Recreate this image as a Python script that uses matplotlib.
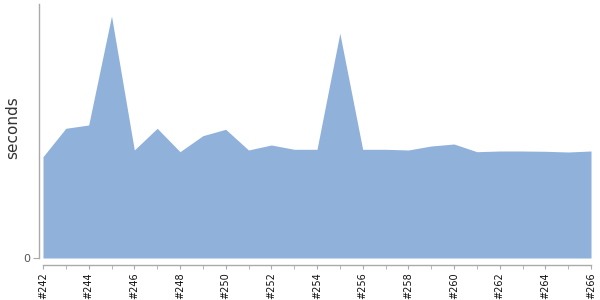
import matplotlib
matplotlib.use("Agg")
import matplotlib.pyplot as plt
from matplotlib.ticker import FixedLocator

builds = list(range(242, 267))
seconds = [101.3, 129.7, 133.0, 242.0, 108.0, 129.7, 106.3, 122.3, 128.7, 108.0,
           113.0, 108.7, 108.7, 224.7, 108.7, 108.7, 108.0, 112.0, 114.0, 106.3,
           107.0, 107.0, 106.7, 106.0, 107.0]
ylabel = "seconds"

fig = plt.figure(figsize=(6, 3), dpi=100)
ax = fig.add_axes([43/600, 1 - 258/300, (591 - 43)/600, (258 - 4)/300])

ax.fill_between(builds, seconds, 0, color="#8fb1da", linewidth=0)
ax.set_xlim(builds[0], builds[-1])
ax.set_ylim(0, 254)

for s in ("top", "right"):
    ax.spines[s].set_visible(False)
ax.spines["left"].set_position(("outward", 3))
ax.spines["bottom"].set_position(("outward", 5))
for s in ("left", "bottom"):
    ax.spines[s].set_color("#aaaaaa")
    ax.spines[s].set_linewidth(1)

major = [b for b in builds if b % 2 == 0]
minor = [b for b in builds if b % 2 == 1]
ax.xaxis.set_major_locator(FixedLocator(major))
ax.xaxis.set_minor_locator(FixedLocator(minor))
ax.set_xticklabels(["#%d" % b for b in major], rotation=90, fontsize=7, color="#111111")
ax.tick_params(axis="x", which="both", length=3, color="#aaaaaa", pad=2)
ax.set_yticks([0])
ax.set_yticklabels(["0"], fontsize=8, color="#555555")
ax.tick_params(axis="y", length=4, color="#aaaaaa", pad=2)

ax.set_ylabel(ylabel, fontsize=11, color="#333333", ha="center", va="center")
ax.yaxis.set_label_coords(13/600, 1 - 128/300, transform=fig.transFigure)

fig.savefig("out.png", dpi=100)
